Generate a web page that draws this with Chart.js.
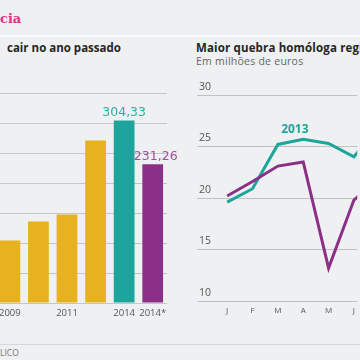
<!DOCTYPE html>
<html>
<head>
<meta charset="utf-8">
<script src="https://cdn.jsdelivr.net/npm/chart.js@4"></script>
<style>
	body { margin: 0; background: #eef0f1; }
	#wrap { position: relative; width: 360px; height: 360px; overflow: hidden; background: #eef0f1; font-family: "Open Sans", sans-serif; }
	.txt { position: absolute; white-space: nowrap; }
	#kicker { left: 0; top: 11px; font: bold 13px "DejaVu Serif", serif; color: #e2308a; }
	#rule { position: absolute; left: 0; top: 35px; width: 360px; height: 2px; background: #fbfbfb; }
	#titleL { left: 7px; top: 40px; font-weight: 700; font-size: 11.5px; color: #262626; }
	#titleR { left: 196px; top: 40px; font-weight: 700; font-size: 11.5px; letter-spacing: 0.15px; color: #262626; }
	#subR { left: 196px; top: 54px; font-size: 10.5px; letter-spacing: 0.25px; color: #666; }
	#foot { position: absolute; left: 0; top: 344px; width: 360px; height: 1px; background: #d4d7d9; }
	#src { left: 0; top: 347px; font-size: 8.5px; color: #777; }
	#boxL { position: absolute; left: -6px; top: 80px; width: 187px; height: 245px; }
	#boxR { position: absolute; left: 197px; top: 80px; width: 163px; height: 243px; }
</style>
</head>
<body>
<div id="wrap">
	<div class="txt" id="kicker">cia</div>
	<div id="rule"></div>
	<div class="txt" id="titleL">cair no ano passado</div>
	<div class="txt" id="titleR">Maior quebra homóloga regi</div>
	<div class="txt" id="subR">Em milhões de euros</div>
	<div id="boxL"><canvas id="bars"></canvas></div>
	<div id="boxR"><canvas id="lines"></canvas></div>
	<div id="foot"></div>
	<div class="txt" id="src">LICO</div>
</div>
<script>
// left panel
const years = ["2009", "", "2011", "", "2014", "2014*"];
const yearValues = [104.2, 135.7, 147.4, 270.7, 304.33, 231.26];
const barColors = ["#e8b11f", "#e8b11f", "#e8b11f", "#e8b11f", "#1da59d", "#8c2f87"];
const labelColors = [null, null, null, null, "#2aaea6", "#a24f9b"];

// right panel
const months = ["J", "F", "M", "A", "M", "J", "J"];
const series2013 = [19.6, 20.9, 25.2, 25.7, 25.3, 24.0, 27.0];
const series2014 = [20.2, 21.6, 23.1, 23.5, 13.2, 19.8, 22.0];
const yTicks = [10, 15, 20, 25, 30];

const fontFamily = "'Open Sans', sans-serif";

const valueLabels = {
	id: "valueLabels",
	afterDatasetsDraw(chart) {
		const { ctx } = chart;
		const meta = chart.getDatasetMeta(0);
		ctx.save();
		ctx.font = "12.5px 'DejaVu Sans', sans-serif";
		ctx.textAlign = "center";
		ctx.textBaseline = "bottom";
		yearValues.forEach((v, i) => {
			if (!labelColors[i]) return;
			ctx.fillStyle = labelColors[i];
			ctx.fillText(v.toFixed(2).replace(".", ","), meta.data[i].x + (i === 5 ? 3 : 0), meta.data[i].y - 1);
		});
		ctx.restore();
	},
};

new Chart(document.getElementById("bars"), {
	type: "bar",
	plugins: [valueLabels],
	data: {
		labels: years,
		datasets: [
			{
				data: yearValues,
				backgroundColor: barColors,
				categoryPercentage: 1,
				barPercentage: 0.726,
			},
		],
	},
	options: {
		animation: false,
		maintainAspectRatio: false,
		layout: { padding: { top: 13, left: 0, right: 14, bottom: 0 } },
		plugins: { legend: { display: false }, tooltip: { enabled: false } },
		scales: {
			x: {
				grid: { display: false, drawTicks: false },
				border: { display: false },
				ticks: { color: "#555", font: { family: fontFamily, size: 9.5 }, padding: 5, maxRotation: 0, autoSkip: false },
				afterFit(scale) {
					scale.height = 22;
				},
			},
			y: {
				display: true,
				min: 0,
				max: 350,
				ticks: { display: false, stepSize: 50 },
				grid: { color: "#c4c6c8", drawTicks: false },
				border: { display: false },
				afterFit(scale) {
					scale.width = 0;
				},
			},
		},
	},
});

const seriesLabel = {
	id: "seriesLabel",
	afterDatasetsDraw(chart) {
		const { ctx, scales: { x, y } } = chart;
		ctx.save();
		ctx.font = "bold 12px " + fontFamily;
		ctx.fillStyle = "#1da59d";
		ctx.textAlign = "center";
		ctx.textBaseline = "middle";
		ctx.fillText("2013", x.getPixelForValue(2.67), y.getPixelForValue(26.6));
		ctx.restore();
	},
};

const toPoints = arr => arr.map((v, i) => ({ x: i, y: v }));

new Chart(document.getElementById("lines"), {
	type: "line",
	plugins: [seriesLabel],
	data: {
		datasets: [
			{
				label: "2014",
				data: toPoints(series2014),
				borderColor: "#8c2f87",
				borderWidth: 3,
				pointRadius: 0,
				tension: 0,
			},
			{
				label: "2013",
				data: toPoints(series2013),
				borderColor: "#1da59d",
				borderWidth: 3,
				pointRadius: 0,
				tension: 0,
			},
		],
	},
	options: {
		animation: false,
		maintainAspectRatio: false,
		layout: { padding: { top: 15, left: 0, right: 0, bottom: 0 } },
		plugins: { legend: { display: false }, tooltip: { enabled: false } },
		scales: {
			x: {
				type: "linear",
				min: -1.19,
				max: 5.13,
				afterBuildTicks(scale) {
					// only the months that fall inside the visible area
					scale.ticks = months.slice(0, 6).map((m, i) => ({ value: i }));
				},
				ticks: {
					color: "#555",
					font: { family: fontFamily, size: 8 },
					padding: 5,
					maxRotation: 0,
					autoSkip: false,
					callback: v => months[v] || "",
				},
				grid: { display: false, drawTicks: false },
				border: { display: false },
				afterFit(scale) {
					scale.height = 22;
				},
			},
			y: {
				min: 10,
				max: 30,
				afterBuildTicks(scale) {
					scale.ticks = yTicks.map(v => ({ value: v }));
				},
				ticks: {
					mirror: true,
					padding: 2,
					labelOffset: -8,
					color: "#555",
					font: { family: fontFamily, size: 10.5 },
				},
				grid: { color: "#bfc1c3", drawTicks: false },
				border: { display: false },
				afterFit(scale) {
					scale.width = 0;
				},
			},
		},
	},
});
</script>
</body>
</html>
